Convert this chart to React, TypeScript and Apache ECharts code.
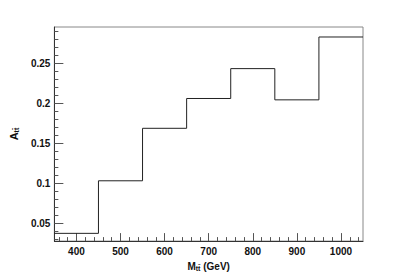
import React, { useEffect, useRef } from "react";
import * as echarts from "echarts";

const binEdges = [350, 450, 550, 650, 750, 850, 950, 1050];
const asymmetry = [0.0372, 0.103, 0.1687, 0.206, 0.2434, 0.2043, 0.283];
const xMajorTicks = [400, 500, 600, 700, 800, 900, 1000];
const xMinorTicks = [360, 380, 420, 440, 460, 480, 520, 540, 560, 580, 620, 640, 660, 680, 720, 740, 760, 780, 820, 840, 860, 880, 920, 940, 960, 980, 1020, 1040];
const yMajorTicks = [0.05, 0.1, 0.15, 0.2, 0.25];
const yMinorTicks = [0.03, 0.04, 0.06, 0.07, 0.08, 0.09, 0.11, 0.12, 0.13, 0.14, 0.16, 0.17, 0.18, 0.19, 0.21, 0.22, 0.23, 0.24, 0.26, 0.27, 0.28, 0.29];

const FONT = "Liberation Sans";

export default function App() {
  const ref = useRef<HTMLDivElement>(null);
  useEffect(() => {
    if (!ref.current) return;
    const chart = echarts.init(ref.current, null, { renderer: "svg" });
    const data = binEdges.map((e, i) => [e, asymmetry[Math.min(i, asymmetry.length - 1)]]);
    const xRange = { min: 350, max: 1050 };
    const yRange = { min: 0.0275, max: 0.2955 };
    const axisCol = "#888";
    chart.setOption({
      animation: false,
      backgroundColor: "#fff",
      grid: { left: 40, top: 27, right: 41, bottom: 31, show: true, borderColor: axisCol, borderWidth: 1 },
      xAxis: [
        {
          type: "value",
          ...xRange,
          axisLine: { show: true, lineStyle: { color: "#333", width: 1 } },
          axisTick: { show: true, inside: true, length: 8, lineStyle: { color: "#555" }, customValues: xMajorTicks },
          axisLabel: {
            show: true,
            customValues: xMajorTicks,
            formatter: (v: number) => String(v),
            fontFamily: FONT,
            fontSize: 10,
            fontWeight: "bold",
            color: "#111",
            margin: 5,
          },
          splitLine: { show: false },
          name: "{a|M}{s|tt\u0304}{a| (GeV)}",
          nameLocation: "middle",
          nameGap: 14,
          nameTextStyle: {
            rich: {
              a: { fontFamily: FONT, fontSize: 10, fontWeight: "bold", color: "#111" },
              s: { fontFamily: FONT, fontSize: 7, fontWeight: "bold", color: "#111", verticalAlign: "bottom", padding: [5, 0, 0, 0] },
            },
          },
        },
        {
          type: "value",
          ...xRange,
          gridIndex: 0,
          position: "bottom",
          axisLine: { show: false },
          axisTick: { show: true, inside: true, length: 4, lineStyle: { color: "#555" }, customValues: xMinorTicks },
          axisLabel: { show: false },
          splitLine: { show: false },
        },
      ],
      yAxis: [
        {
          type: "value",
          ...yRange,
          axisLine: { show: true, lineStyle: { color: "#333", width: 1 } },
          axisTick: { show: true, inside: true, length: 9, lineStyle: { color: "#555" }, customValues: yMajorTicks },
          axisLabel: {
            show: true,
            customValues: yMajorTicks,
            formatter: (v: number) => String(v),
            fontFamily: FONT,
            fontSize: 10,
            fontWeight: "bold",
            color: "#111",
            margin: 4,
          },
          splitLine: { show: false },
          name: "{a|A}{s|tt\u0304}",
          nameLocation: "middle",
          nameGap: 25,
          nameRotate: 90,
          nameTextStyle: {
            rich: {
              a: { fontFamily: FONT, fontSize: 11, fontWeight: "bold", color: "#111" },
              s: { fontFamily: FONT, fontSize: 7, fontWeight: "bold", color: "#111", padding: [6, 0, 0, 0] },
            },
          },
        },
        {
          type: "value",
          ...yRange,
          position: "left",
          axisLine: { show: false },
          axisTick: { show: true, inside: true, length: 4, lineStyle: { color: "#555" }, customValues: yMinorTicks },
          axisLabel: { show: false },
          splitLine: { show: false },
        },
      ],
      series: [
        {
          type: "line",
          step: "end",
          data,
          showSymbol: false,
          symbol: "none",
          lineStyle: { color: "#222", width: 1 },
          clip: true,
        },
      ],
    });
    return () => chart.dispose();
  }, []);
  return <div ref={ref} style={{ position: "fixed", left: 0, top: 0, width: 404, height: 277 }} />;
}
